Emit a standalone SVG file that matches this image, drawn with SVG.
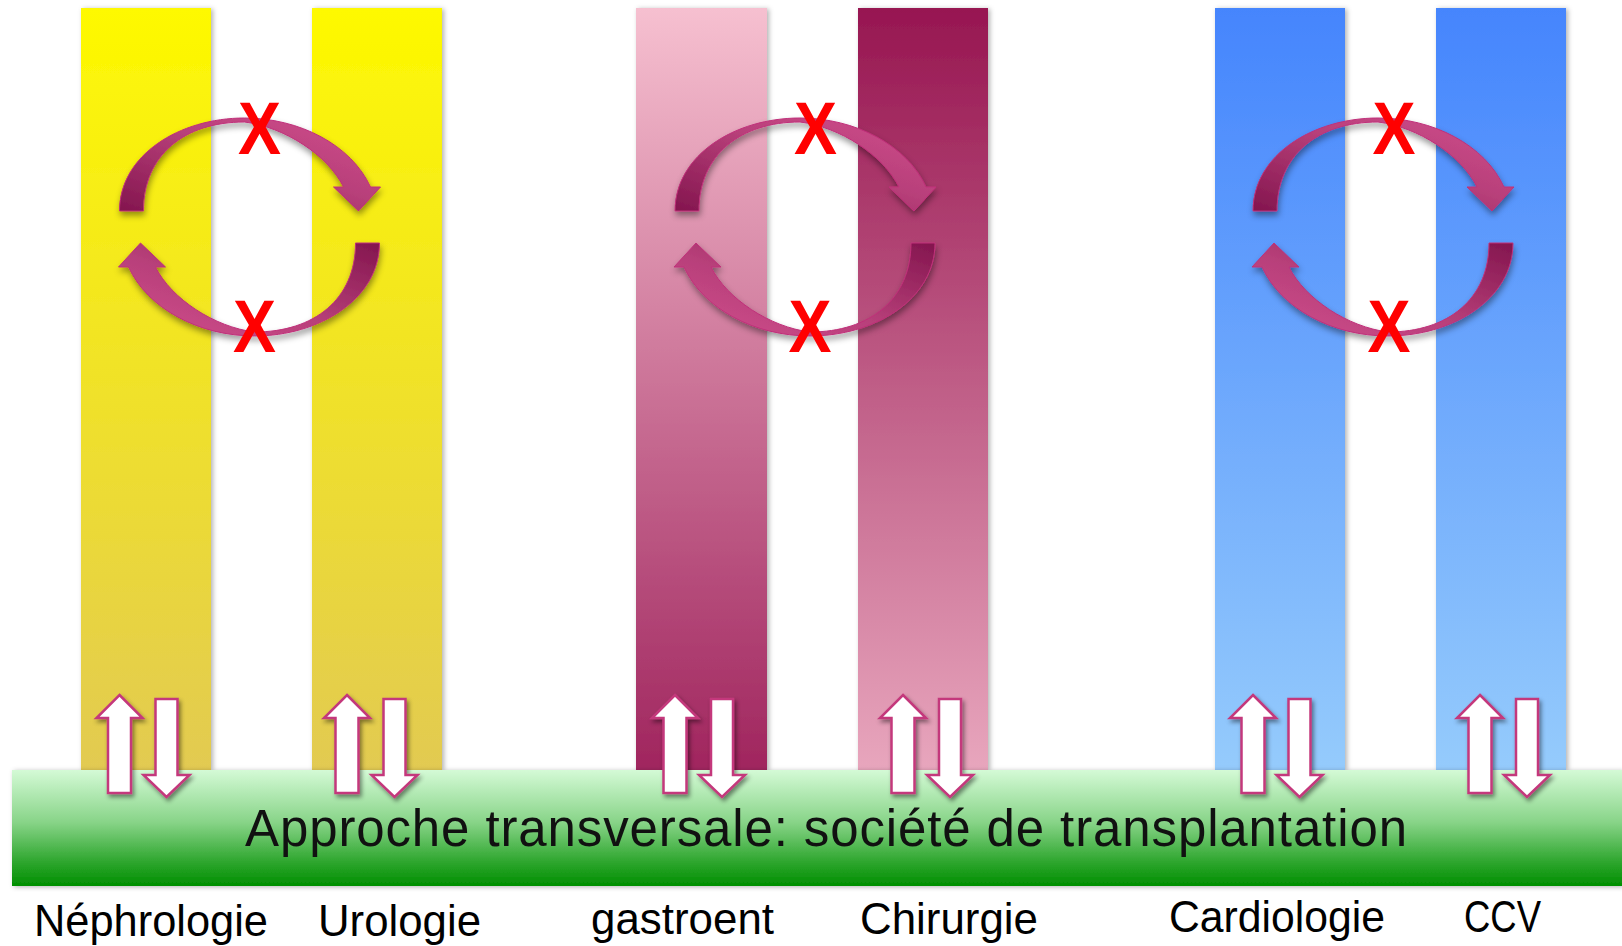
<svg xmlns="http://www.w3.org/2000/svg" xmlns:xlink="http://www.w3.org/1999/xlink" width="1622" height="946" viewBox="0 0 1622 946">
<defs>
<style>
.lbl{font-family:"Liberation Sans",Arial,sans-serif;font-size:44px;fill:#000}
.main{font-family:"Liberation Sans",Arial,sans-serif;font-size:51px;fill:#111}
.x{font-family:"Liberation Sans",Arial,sans-serif;font-weight:bold;font-size:75px;fill:#ff0000}
.ua{fill:#fff;stroke:#c4387c;stroke-width:2.5;stroke-linejoin:miter}
.ca{fill:url(#gArc);stroke:#c0307a;stroke-width:1}
</style>
<linearGradient id="gYel" x1="0" y1="0" x2="0" y2="1"><stop offset="0" stop-color="#fef900"/><stop offset="1" stop-color="#e2ca52"/></linearGradient>
<linearGradient id="gPinkL" x1="0" y1="0" x2="0" y2="1"><stop offset="0" stop-color="#f6c0d0"/><stop offset="1" stop-color="#a0255e"/></linearGradient>
<linearGradient id="gPinkD" x1="0" y1="0" x2="0" y2="1"><stop offset="0" stop-color="#971651"/><stop offset="1" stop-color="#e8a6bd"/></linearGradient>
<linearGradient id="gBlue" x1="0" y1="0" x2="0" y2="1"><stop offset="0" stop-color="#4585fd"/><stop offset="1" stop-color="#95cbfc"/></linearGradient>
<linearGradient id="gGreen" x1="0" y1="0" x2="0" y2="1"><stop offset="0" stop-color="#d4fad6"/><stop offset="0.45" stop-color="#88d488"/><stop offset="0.8" stop-color="#2ca52c"/><stop offset="1" stop-color="#008f00"/></linearGradient>
<linearGradient id="gArc" x1="0" y1="1" x2="1" y2="0"><stop offset="0" stop-color="#83154e"/><stop offset="0.55" stop-color="#b8407a"/><stop offset="1" stop-color="#d24d8e"/></linearGradient>
<linearGradient id="gTop" x1="0" y1="0" x2="1" y2="0"><stop offset="0" stop-color="#6a1b5e" stop-opacity="0"/><stop offset="0.3" stop-color="#6a1b5e"/><stop offset="0.7" stop-color="#6a1b5e"/><stop offset="1" stop-color="#6a1b5e" stop-opacity="0"/></linearGradient>
<filter id="shBar" x="-10%" y="-5%" width="120%" height="110%"><feDropShadow dx="2" dy="1" stdDeviation="2.5" flood-color="#000" flood-opacity="0.3"/></filter>
<filter id="shArr" x="-30%" y="-20%" width="160%" height="140%"><feDropShadow dx="2" dy="3" stdDeviation="2" flood-color="#000" flood-opacity="0.45"/></filter>
<filter id="shArc" x="-20%" y="-20%" width="140%" height="150%"><feDropShadow dx="1" dy="4" stdDeviation="3" flood-color="#000" flood-opacity="0.4"/></filter>
<path id="upA" d="M0,0 L23,23 L11.5,23 L11.5,98 L-11.5,98 L-11.5,23 L-23,23 Z"/>
<path id="dnA" d="M-11,0 L11,0 L11,76 L23,76 L0,98 L-23,76 L-11,76 Z"/>
<path id="arcA" d="M-130,-14 C-130,-70 -70,-107 -5,-107 C50,-107 102,-80 121,-38 L131,-38 L109,-14 L84,-38 L94,-38 C78,-70 35,-98 -5,-103 C-65,-103 -106,-70 -106,-14 Z"/>
</defs>
<rect width="1622" height="946" fill="#fff"/>
<line x1="788" y1="1" x2="1136" y2="1" stroke="url(#gTop)" stroke-width="2.5"/>
<g id="bar-nephrologie"><rect x="81" y="8" width="130" height="762" fill="url(#gYel)" filter="url(#shBar)"/></g>
<g id="bar-urologie"><rect x="312" y="8" width="130" height="762" fill="url(#gYel)" filter="url(#shBar)"/></g>
<g id="bar-gastroent"><rect x="636" y="8" width="131" height="762" fill="url(#gPinkL)" filter="url(#shBar)"/></g>
<g id="bar-chirurgie"><rect x="858" y="8" width="130" height="762" fill="url(#gPinkD)" filter="url(#shBar)"/></g>
<g id="bar-cardiologie"><rect x="1215" y="8" width="130" height="762" fill="url(#gBlue)" filter="url(#shBar)"/></g>
<g id="bar-ccv"><rect x="1436" y="8" width="130" height="762" fill="url(#gBlue)" filter="url(#shBar)"/></g>
<g id="transversal">
<rect x="12" y="770" width="1610" height="116" fill="url(#gGreen)" filter="url(#shBar)"/>
<text class="main" x="245" y="846" textLength="1162" lengthAdjust="spacing">Approche transversale: société de transplantation</text>
</g>
<g id="connectors">
<g filter="url(#shArr)">
<use xlink:href="#upA" class="ua" transform="translate(119.5,695)"/><use xlink:href="#dnA" class="ua" transform="translate(166.5,699)"/>
<use xlink:href="#upA" class="ua" transform="translate(347,695)"/><use xlink:href="#dnA" class="ua" transform="translate(394.5,699)"/>
<use xlink:href="#upA" class="ua" transform="translate(675,695)"/><use xlink:href="#dnA" class="ua" transform="translate(722,699)"/>
<use xlink:href="#upA" class="ua" transform="translate(903,695)"/><use xlink:href="#dnA" class="ua" transform="translate(950,699)"/>
<use xlink:href="#upA" class="ua" transform="translate(1253,695)"/><use xlink:href="#dnA" class="ua" transform="translate(1299.5,699)"/>
<use xlink:href="#upA" class="ua" transform="translate(1480,695)"/><use xlink:href="#dnA" class="ua" transform="translate(1527,699)"/>
</g>
<g filter="url(#shArc)">
<use xlink:href="#arcA" class="ca" transform="translate(249.5,225)"/><use xlink:href="#arcA" class="ca" transform="translate(249.5,225) rotate(180,0,2)"/>
<use xlink:href="#arcA" class="ca" transform="translate(805,225)"/><use xlink:href="#arcA" class="ca" transform="translate(805,225) rotate(180,0,2)"/>
<use xlink:href="#arcA" class="ca" transform="translate(1383,225)"/><use xlink:href="#arcA" class="ca" transform="translate(1383,225) rotate(180,0,2)"/>
</g>
</g>
<g id="blocks">
<text class="x" text-anchor="middle" transform="translate(259.5,154) scale(0.86,1)">X</text>
<text class="x" text-anchor="middle" transform="translate(254.5,352) scale(0.86,1)">X</text>
<text class="x" text-anchor="middle" transform="translate(815.5,154) scale(0.86,1)">X</text>
<text class="x" text-anchor="middle" transform="translate(810,352) scale(0.86,1)">X</text>
<text class="x" text-anchor="middle" transform="translate(1394,154) scale(0.86,1)">X</text>
<text class="x" text-anchor="middle" transform="translate(1389,352) scale(0.86,1)">X</text>
</g>
<g id="labels">
<text class="lbl" x="34" y="936" textLength="234" lengthAdjust="spacingAndGlyphs">Néphrologie</text>
<text class="lbl" x="318" y="936" textLength="163" lengthAdjust="spacingAndGlyphs">Urologie</text>
<text class="lbl" x="591" y="934" textLength="183" lengthAdjust="spacingAndGlyphs">gastroent</text>
<text class="lbl" x="860" y="934" textLength="178" lengthAdjust="spacingAndGlyphs">Chirurgie</text>
<text class="lbl" x="1169" y="932" textLength="216" lengthAdjust="spacingAndGlyphs">Cardiologie</text>
<text class="lbl" x="1464" y="932" textLength="77" lengthAdjust="spacingAndGlyphs">CCV</text>
</g>
</svg>
